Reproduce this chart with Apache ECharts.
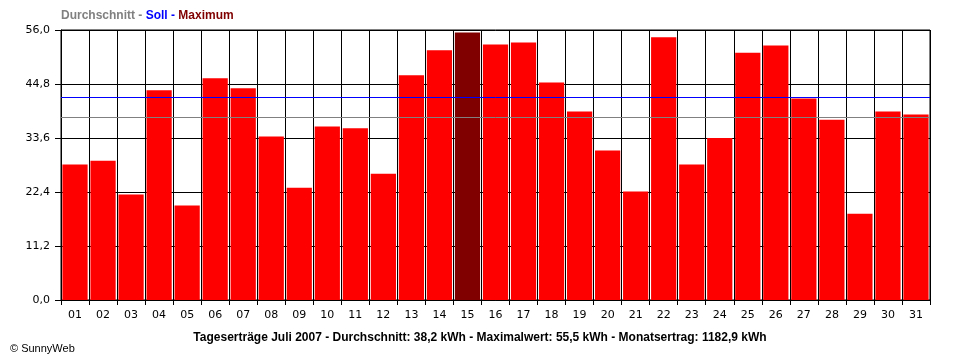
<!DOCTYPE html>
<html>
<head>
<meta charset="utf-8">
<script src="https://cdn.jsdelivr.net/npm/echarts@6/dist/echarts.min.js"></script>
<style>
html,body{margin:0;padding:0;background:#fff;}
#chart{width:960px;height:360px;}
</style>
</head>
<body>
<div id="chart"></div>
<script>
var days = ['01','02','03','04','05','06','07','08','09','10','11','12','13','14','15','16','17','18','19','20','21','22','23','24','25','26','27','28','29','30','31'];
var yields = [28.1,28.9,21.9,43.5,19.6,46.0,43.9,33.9,23.3,36.0,35.6,26.2,46.6,51.8,55.5,53.0,53.4,45.1,39.1,31.0,22.5,54.5,28.1,33.6,51.3,52.8,41.8,37.4,17.9,39.1,38.5];
var averageValue = 38.0;
var targetValue = 42.1;
var yTicks = [0, 11.2, 22.4, 33.6, 44.8, 56.0];
var bottomTitle = 'Tageserträge Juli 2007 - Durchschnitt: 38,2 kWh - Maximalwert: 55,5 kWh - Monatsertrag: 1182,9 kWh';

var maxVal = Math.max.apply(null, yields);
var barData = yields.map(function(v){
  return v === maxVal ? {value: v, itemStyle: {color: '#800000'}} : v;
});

var chart = echarts.init(document.getElementById('chart'), null, {renderer: 'canvas'});
chart.setOption({
  animation: false,
  backgroundColor: '#ffffff',
  textStyle: {fontFamily: 'Liberation Sans, Arial, sans-serif'},
  title: [{
    left: 61, top: 10, padding: 0,
    text: '{a|Durchschnitt - }{b|Soll - }{c|Maximum}',
    textStyle: {
      rich: {
        a: {color: '#808080', fontWeight: 'bold', fontSize: 12, fontFamily: 'Liberation Sans, Arial'},
        b: {color: '#0000ff', fontWeight: 'bold', fontSize: 12, fontFamily: 'Liberation Sans, Arial'},
        c: {color: '#800000', fontWeight: 'bold', fontSize: 12, fontFamily: 'Liberation Sans, Arial'}
      }
    }
  }, {
    left: 'center', top: 327,
    text: bottomTitle,
    textStyle: {color: '#000', fontWeight: 'bold', fontSize: 12, fontFamily: 'Liberation Sans, Arial'}
  }, {
    left: 5, top: 338,
    text: '© SunnyWeb',
    textStyle: {color: '#000', fontWeight: 'normal', fontSize: 11, fontFamily: 'Liberation Sans, Arial'}
  }],
  grid: {left: 61, right: 30, top: 30, bottom: 60, show: true, borderColor: '#000', borderWidth: 1, backgroundColor: 'transparent'},
  xAxis: {
    type: 'category',
    data: days,
    boundaryGap: true,
    axisLine: {lineStyle: {color: '#000', width: 1}},
    axisTick: {show: true, length: 5, lineStyle: {color: '#000'}, alignWithLabel: false},
    splitLine: {show: true, lineStyle: {color: '#000', width: 1}},
    axisLabel: {color: '#000', fontSize: 11, margin: 10, fontFamily: 'DejaVu Sans, sans-serif'}
  },
  yAxis: {
    type: 'value',
    min: 0, max: 56, interval: 11.2,
    axisLine: {show: true, lineStyle: {color: '#000', width: 1}},
    axisTick: {show: true, length: 6, lineStyle: {color: '#000'}},
    splitLine: {show: true, lineStyle: {color: '#000', width: 1}},
    axisLabel: {
      color: '#000', fontSize: 11, margin: 11, fontFamily: 'DejaVu Sans, sans-serif',
      formatter: function(v){ return v.toFixed(1).replace('.', ','); }
    }
  },
  series: [{
    type: 'bar',
    data: barData,
    barCategoryGap: '10%',
    itemStyle: {color: '#ff0000'},
    markLine: {
      silent: true,
      symbol: 'none',
      label: {show: false},
      data: [
        {yAxis: averageValue, lineStyle: {color: '#808080', width: 1, type: 'solid'}},
        {yAxis: targetValue, lineStyle: {color: '#0000ff', width: 1, type: 'solid'}}
      ]
    }
  }]
});
</script>
</body>
</html>
